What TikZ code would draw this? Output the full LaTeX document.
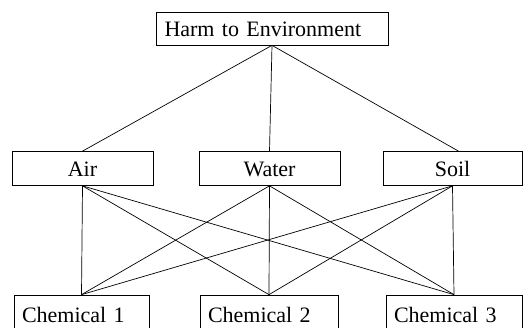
\documentclass[tikz,border=0pt]{standalone}
\usepackage{fontspec}
\setmainfont{Liberation Serif}
\begin{document}
\begin{tikzpicture}[x=1pt,y=-1pt,
  box/.style={draw,line width=0.7pt,inner sep=0pt,text height=17pt,text depth=0pt,font=\fontsize{22}{24}\selectfont},
  leftbox/.style={box,align=left},
  link/.style={line width=0.7pt}]
\useasboundingbox (0,0) rectangle (528,328);
\clip (0,0) rectangle (528,328);
\node[leftbox,minimum width=232,minimum height=33,text width=215] (harm) at (272,28.5) {Harm to Environment};
\node[box,minimum width=141,minimum height=34] (air) at (82.5,168.5) {Air};
\node[box,minimum width=141,minimum height=34] (water) at (269.5,168.5) {Water};
\node[box,minimum width=139,minimum height=34] (soil) at (452.5,168.5) {Soil};
\node[leftbox,minimum width=135,minimum height=38,text width=119] (c1) at (81.5,314) {Chemical 1};
\node[leftbox,minimum width=138,minimum height=38,text width=122] (c2) at (269,314) {Chemical 2};
\node[leftbox,minimum width=136,minimum height=38,text width=120] (c3) at (454,314) {Chemical 3};
\draw[link] (harm.south) -- (air.north);
\draw[link] (harm.south) -- (water.north);
\draw[link] (harm.south) -- ([xshift=6pt]soil.north);
\foreach \m in {air,water,soil}{
  \foreach \c in {c1,c2,c3}{
    \draw[link] (\m.south) -- (\c.north);
  }
}
\end{tikzpicture}
\end{document}
